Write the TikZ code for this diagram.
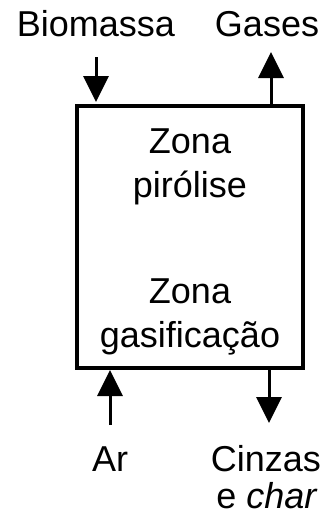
\documentclass[tikz,border=0pt]{standalone}
\usepackage{fontspec}
\setmainfont{Liberation Sans}
\usetikzlibrary{arrows.meta}
\begin{document}
\begin{tikzpicture}[x=1pt,y=1pt,
  lbl/.style={anchor=base,inner sep=0pt,font=\fontsize{36}{44}\selectfont},
  arr/.style={line width=3pt,-{Triangle[length=26pt,width=25pt]}},
  reactor/.style={draw,line width=3.5pt,minimum width=226pt,minimum height=262pt,inner sep=0pt}]
\useasboundingbox (0,0) rectangle (326,-517);
\node[reactor] (box) at (190,-237) {};
\node[lbl] (z1) at (190,-153) {Zona};
\node[lbl] (p1) at (190,-197) {pirólise};
\node[lbl] (z2) at (190,-303) {Zona};
\node[lbl] (g2) at (190,-347) {gasificação};
\node[lbl] (bio) at (96,-36) {Biomassa};
\node[lbl] (gas) at (267,-36) {Gases};
\node[lbl] (ar) at (110,-471) {Ar};
\node[lbl] (cin) at (266,-471) {Cinzas};
\node[lbl] (ech) at (267,-508) {e \textit{char}};
\coordinate (bioS) at (96,-57);
\coordinate (bioE) at (96,-102);
\coordinate (gasS) at (271,-106);
\coordinate (gasE) at (271,-52);
\coordinate (arS) at (110,-425);
\coordinate (arE) at (110,-370);
\coordinate (cinS) at (269,-368);
\coordinate (cinE) at (269,-423);
\draw[arr] (bioS) -- (bioE);
\draw[arr] (gasS) -- (gasE);
\draw[arr] (arS) -- (arE);
\draw[arr] (cinS) -- (cinE);
\end{tikzpicture}
\end{document}
